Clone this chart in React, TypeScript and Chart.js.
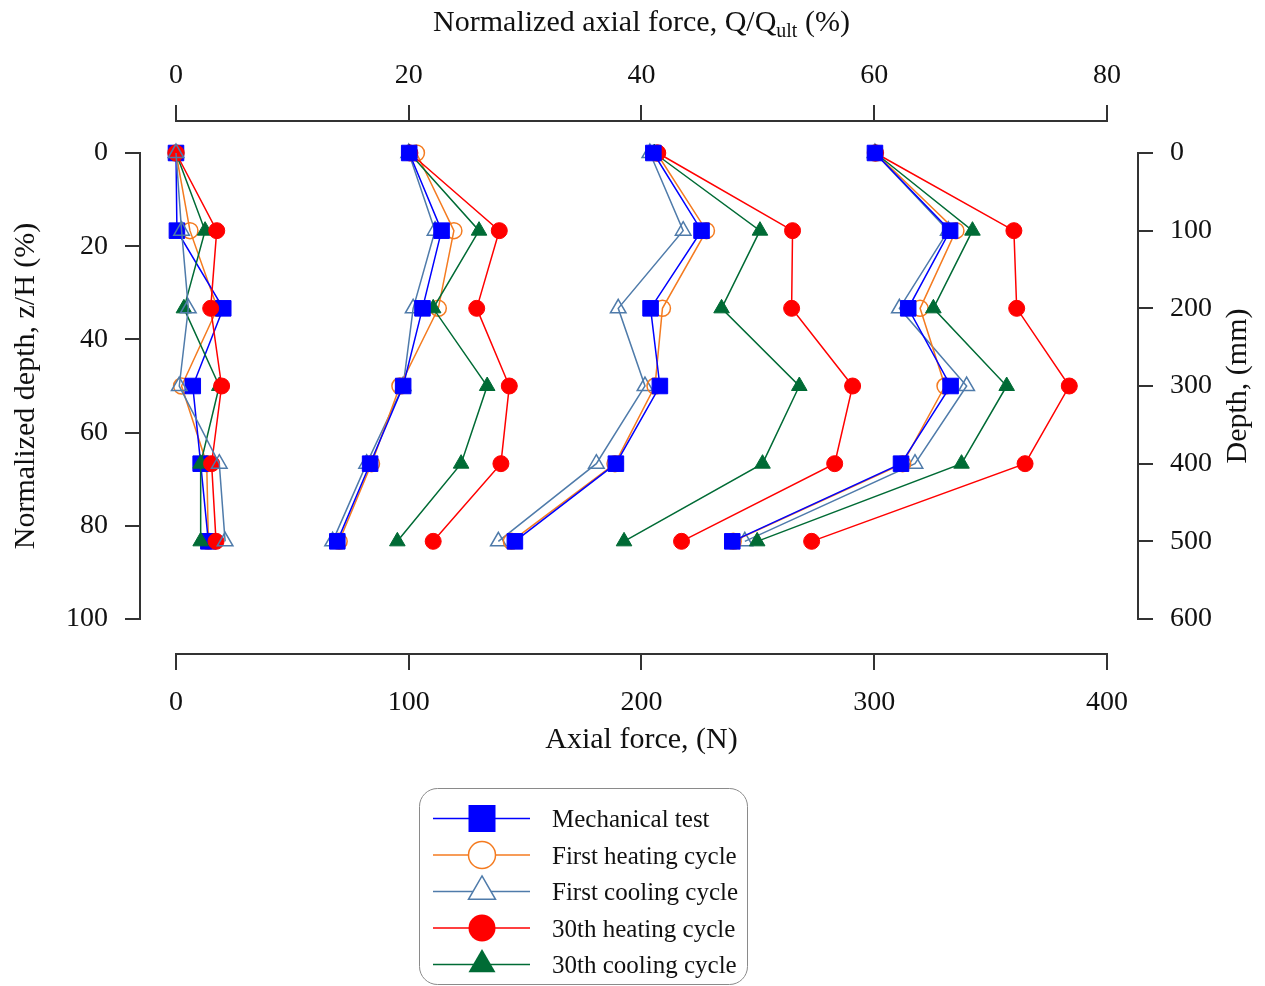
import React, { useEffect, useRef } from 'react';
import { Chart, registerables } from 'chart.js';

Chart.register(...registerables);

// ---------- data ----------
const depthMm = [0, 100, 200, 300, 400, 500];
const pileLengthMm = 600;
const qUltN = 500;

const forceTicks = [0, 100, 200, 300, 400];
const normForceTicks = [0, 20, 40, 60, 80];
const normDepthTicks = [0, 20, 40, 60, 80, 100];
const depthTicks = [0, 100, 200, 300, 400, 500, 600];

// axial force (N) at each depth, one row per load level
const mechanicalTest = [
  [0, 0.4, 20.3, 7.2, 10.6, 13.9],
  [100.2, 114.1, 105.9, 97.6, 83.4, 69.3],
  [205.1, 225.8, 203.9, 207.9, 189.0, 145.6],
  [300.3, 332.6, 314.6, 332.8, 311.5, 239.0],
];
const firstHeating = [
  [0, 6.0, 17.8, 2.4, 13.2, 13.9],
  [103.3, 119.4, 112.7, 96.2, 84.0, 70.1],
  [206.5, 227.9, 209.0, 205.8, 188.6, 144.1],
  [300.5, 335.1, 319.7, 330.4, 312.2, 239.4],
];
const firstCooling = [
  [0, 2.4, 5.3, 1.4, 18.6, 21.1],
  [100.0, 111.3, 101.9, 97.6, 81.9, 67.3],
  [203.6, 217.9, 190.0, 201.5, 180.6, 138.5],
  [300.3, 331.8, 310.8, 339.7, 317.5, 244.4],
];
const heating30 = [
  [0, 17.5, 14.9, 19.6, 15.3, 17.2],
  [100.5, 138.9, 129.2, 143.2, 139.6, 110.5],
  [207.0, 264.9, 264.5, 290.7, 283.0, 217.2],
  [300.5, 360.0, 361.2, 383.8, 364.8, 273.1],
];
const cooling30 = [
  [0, 12.5, 3.4, 18.6, 10.6, 10.6],
  [100.3, 130.2, 110.5, 133.7, 122.5, 95.1],
  [205.5, 250.9, 234.4, 267.8, 252.0, 192.5],
  [300.5, 342.2, 325.4, 356.9, 337.5, 249.7],
];

const seriesLabels = [
  'Mechanical test',
  'First heating cycle',
  'First cooling cycle',
  '30th heating cycle',
  '30th cooling cycle',
];

// ---------- styles ----------
const FONT = "'Liberation Serif', 'Times New Roman', serif";
const AXIS_COLOR = '#333333';
const TEXT_COLOR = '#111111';

type Style = {
  color: string;
  pointStyle: 'rect' | 'circle' | 'triangle';
  filled: boolean;
  radius: number;
  order: number;
};

const styles: Style[] = [
  { color: '#0000FF', pointStyle: 'rect', filled: true, radius: 11, order: 2 },
  { color: '#F47B20', pointStyle: 'circle', filled: false, radius: 8, order: 3 },
  { color: '#4F7BAA', pointStyle: 'triangle', filled: false, radius: 9, order: 4 },
  { color: '#FF0000', pointStyle: 'circle', filled: true, radius: 8, order: 0 },
  { color: '#006B35', pointStyle: 'triangle', filled: true, radius: 9, order: 1 },
];

const seriesData = [mechanicalTest, firstHeating, firstCooling, heating30, cooling30];

// value range extended so the axis frame sits outside the data range like the reference
const X_MIN = -15.467;
const X_MAX = 413.32;
const Y_MIN = -6.867;
const Y_MAX = 107.51;

function drawMarker(ctx: CanvasRenderingContext2D, st: Style, cx: number, cy: number, size: number) {
  ctx.save();
  ctx.beginPath();
  if (st.pointStyle === 'rect') {
    ctx.rect(cx - size / 2, cy - size / 2, size, size);
  } else if (st.pointStyle === 'circle') {
    ctx.arc(cx, cy, size / 2, 0, Math.PI * 2);
  } else {
    const h = (size * Math.sqrt(3)) / 2;
    ctx.moveTo(cx, cy - (h * 2) / 3);
    ctx.lineTo(cx + size / 2, cy + h / 3);
    ctx.lineTo(cx - size / 2, cy + h / 3);
    ctx.closePath();
  }
  if (st.filled) {
    ctx.fillStyle = st.color;
    ctx.fill();
  } else {
    ctx.fillStyle = '#ffffff';
    ctx.fill();
    ctx.strokeStyle = st.color;
    ctx.lineWidth = 1.5;
    ctx.stroke();
  }
  ctx.restore();
}

const decorPlugin = {
  id: 'decor',
  afterDraw(chart: any) {
    const ctx: CanvasRenderingContext2D = chart.ctx;
    const { x, y } = chart.scales;
    const area = chart.chartArea;
    ctx.save();
    // axis frame lines spanning only the tick range
    ctx.strokeStyle = AXIS_COLOR;
    ctx.lineWidth = 2;
    const x0 = x.getPixelForValue(0);
    const x1 = x.getPixelForValue(400);
    const y0 = y.getPixelForValue(0);
    const y1 = y.getPixelForValue(100);
    ctx.beginPath();
    ctx.moveTo(x0 - 1, area.bottom);
    ctx.lineTo(x1 + 1, area.bottom);
    ctx.moveTo(x0 - 1, area.top);
    ctx.lineTo(x1 + 1, area.top);
    ctx.moveTo(area.left, y0 - 1);
    ctx.lineTo(area.left, y1 + 1);
    ctx.moveTo(area.right, y0 - 1);
    ctx.lineTo(area.right, y1 + 1);
    ctx.stroke();

    // titles
    ctx.fillStyle = TEXT_COLOR;
    ctx.textBaseline = 'alphabetic';
    const cx = (x0 + x1) / 2;
    const cy = (y0 + y1) / 2;

    // top title with subscript
    const mainFont = `30px ${FONT}`;
    const subFont = `20px ${FONT}`;
    const part1 = 'Normalized axial force, Q/Q';
    const part2 = 'ult';
    const part3 = ' (%)';
    ctx.font = mainFont;
    const w1 = ctx.measureText(part1).width;
    const w3 = ctx.measureText(part3).width;
    ctx.font = subFont;
    const w2 = ctx.measureText(part2).width;
    let sx = cx - (w1 + w2 + w3) / 2;
    ctx.textAlign = 'left';
    ctx.font = mainFont;
    ctx.fillText(part1, sx, 31);
    sx += w1;
    ctx.font = subFont;
    ctx.fillText(part2, sx, 37);
    sx += w2;
    ctx.font = mainFont;
    ctx.fillText(part3, sx, 31);

    // bottom title
    ctx.textAlign = 'center';
    ctx.font = mainFont;
    ctx.fillText('Axial force, (N)', cx, 748);

    // left title
    ctx.save();
    ctx.translate(34, cy);
    ctx.rotate(-Math.PI / 2);
    ctx.fillText('Normalized depth, z/H (%)', 0, 0);
    ctx.restore();

    // right title
    ctx.save();
    ctx.translate(1246, cy);
    ctx.rotate(-Math.PI / 2);
    ctx.fillText('Depth, (mm)', 0, 0);
    ctx.restore();

    // legend
    const lx = 419.5;
    const ly = 788.5;
    const lw = 328;
    const lh = 196;
    ctx.beginPath();
    (ctx as any).roundRect(lx, ly, lw, lh, 18);
    ctx.fillStyle = '#ffffff';
    ctx.fill();
    ctx.strokeStyle = '#8a8a8a';
    ctx.lineWidth = 1;
    ctx.stroke();
    const rowY = [818.5, 855, 891.5, 928, 964.5];
    ctx.font = `25px ${FONT}`;
    ctx.textAlign = 'left';
    seriesLabels.forEach((label, i) => {
      const st = styles[i];
      const ry = rowY[i];
      ctx.strokeStyle = st.color;
      ctx.lineWidth = 1.5;
      ctx.beginPath();
      ctx.moveTo(433, ry);
      ctx.lineTo(530, ry);
      ctx.stroke();
      drawMarker(ctx, st, 482, ry, 27);
      ctx.fillStyle = TEXT_COLOR;
      ctx.fillText(label, 552, ry + 8.5);
    });
    ctx.restore();
  },
};

function tickSetter(values: number[]) {
  return (scale: any) => {
    scale.ticks = values.map((v) => ({ value: v }));
  };
}

// drawing-order tweaks so overlapping markers stack like the reference
function orderFor(series: number, group: number): number {
  if (group === 0) {
    if (series === 2) return -2;
    if (series === 3) return -1;
  } else if (series === 0) {
    return -1;
  }
  return styles[series].order;
}

export default function App() {
  const canvasRef = useRef<HTMLCanvasElement | null>(null);

  useEffect(() => {
    document.body.style.margin = '0';
    const canvas = canvasRef.current;
    if (!canvas) return;

    const datasets: any[] = [];
    seriesData.forEach((groups, s) => {
      const st = styles[s];
      groups.forEach((vals, g) => {
        datasets.push({
          label: seriesLabels[s],
          data: vals.map((v, i) => ({ x: v, y: (depthMm[i] / pileLengthMm) * 100 })),
          xAxisID: 'x',
          yAxisID: 'y',
          showLine: true,
          borderColor: st.color,
          borderWidth: 1.5,
          backgroundColor: st.filled ? st.color : 'rgba(255,255,255,0)',
          pointBackgroundColor: st.filled ? st.color : 'rgba(255,255,255,0)',
          pointBorderColor: st.color,
          pointBorderWidth: st.filled ? 1 : 1.5,
          pointStyle: st.pointStyle,
          pointRadius: st.radius,
          pointHoverRadius: st.radius,
          tension: 0,
          fill: false,
          order: orderFor(s, g),
        });
      });
    });

    const tickFont = { family: FONT, size: 28 };
    const gridCommon = {
      display: true,
      drawOnChartArea: false,
      drawTicks: true,
      color: AXIS_COLOR,
      lineWidth: 2,
    };

    const chart = new Chart(canvas, {
      type: 'scatter',
      data: { datasets },
      plugins: [decorPlugin],
      options: {
        animation: false,
        responsive: false,
        maintainAspectRatio: false,
        events: [],
        layout: { padding: 0 },
        plugins: {
          legend: { display: false },
          tooltip: { enabled: false },
          title: { display: false },
        },
        scales: {
          x: {
            type: 'linear',
            position: 'bottom',
            min: X_MIN,
            max: X_MAX,
            afterBuildTicks: tickSetter(forceTicks),
            afterFit: (s: any) => {
              s.height = 332;
            },
            grid: { ...gridCommon, tickLength: 16 },
            border: { display: false },
            ticks: {
              autoSkip: false,
              maxRotation: 0,
              padding: 16,
              color: TEXT_COLOR,
              font: tickFont,
            },
          },
          x2: {
            type: 'linear',
            position: 'top',
            min: X_MIN / (qUltN / 100),
            max: X_MAX / (qUltN / 100),
            afterBuildTicks: tickSetter(normForceTicks),
            afterFit: (s: any) => {
              s.height = 121;
            },
            grid: { ...gridCommon, tickLength: 16 },
            border: { display: false },
            ticks: {
              autoSkip: false,
              maxRotation: 0,
              padding: 13,
              color: TEXT_COLOR,
              font: tickFont,
            },
          },
          y: {
            type: 'linear',
            position: 'left',
            reverse: true,
            min: Y_MIN,
            max: Y_MAX,
            afterBuildTicks: tickSetter(normDepthTicks),
            afterFit: (s: any) => {
              s.width = 140;
            },
            grid: { ...gridCommon, tickLength: 15 },
            border: { display: false },
            ticks: {
              autoSkip: false,
              padding: 17,
              color: TEXT_COLOR,
              font: tickFont,
            },
          },
          y2: {
            type: 'linear',
            position: 'right',
            reverse: true,
            min: (Y_MIN * pileLengthMm) / 100,
            max: (Y_MAX * pileLengthMm) / 100,
            afterBuildTicks: tickSetter(depthTicks),
            afterFit: (s: any) => {
              s.width = 127;
            },
            grid: { ...gridCommon, tickLength: 15 },
            border: { display: false },
            ticks: {
              autoSkip: false,
              padding: 17,
              color: TEXT_COLOR,
              font: tickFont,
            },
          },
        },
      } as any,
    });

    return () => {
      chart.destroy();
    };
  }, []);

  return (
    <div style={{ position: 'absolute', left: 0, top: 0, width: 1265, height: 986 }}>
      <canvas ref={canvasRef} width={1265} height={986} style={{ width: 1265, height: 986, display: 'block' }} />
    </div>
  );
}
